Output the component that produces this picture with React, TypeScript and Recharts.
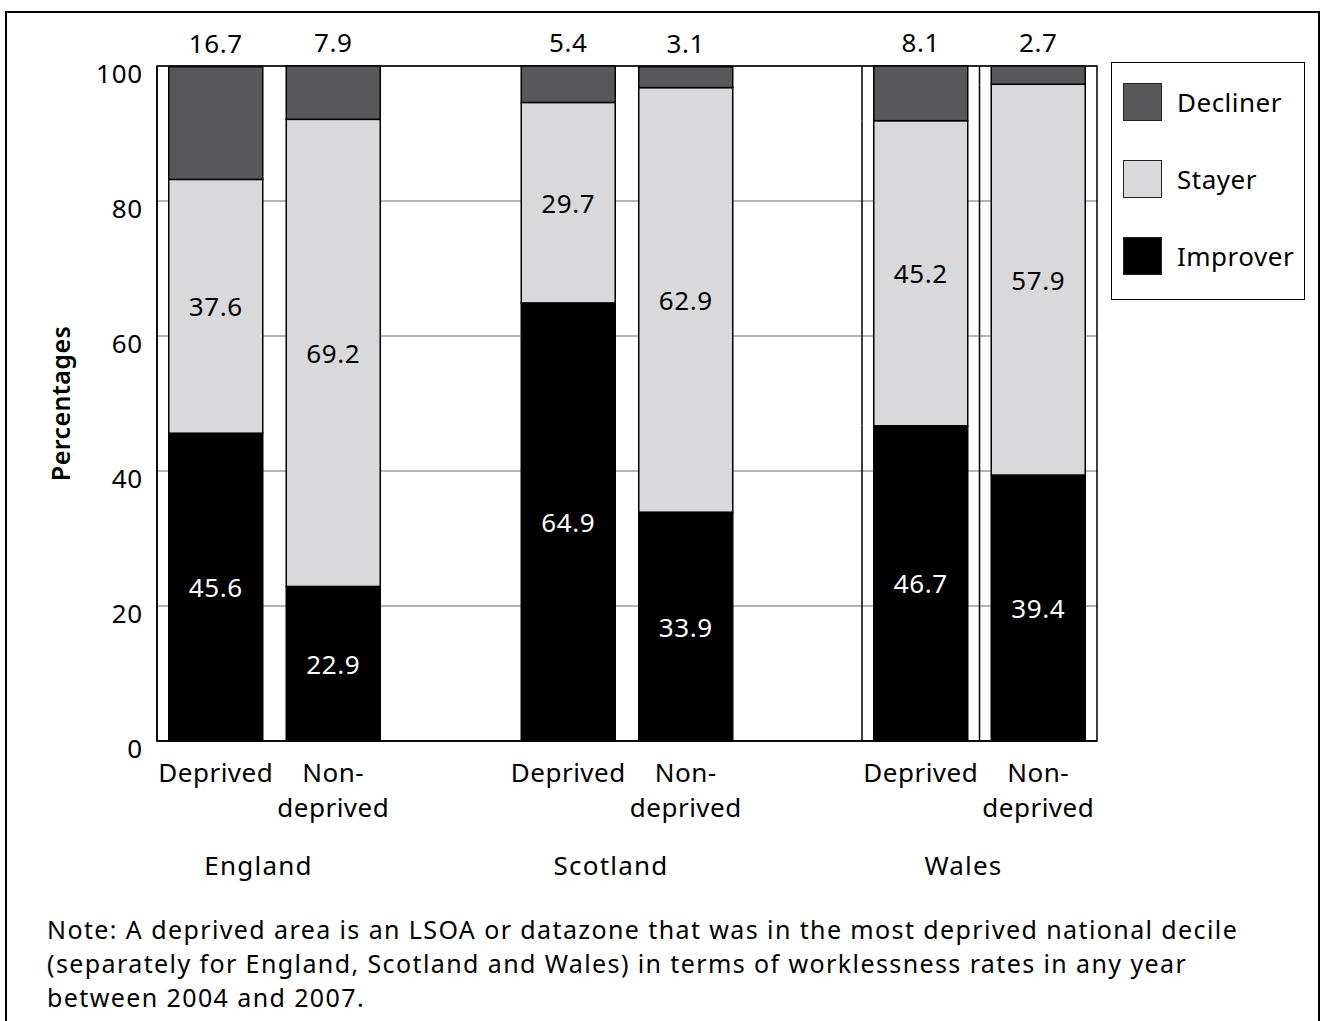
import React from "react";
import { BarChart, Bar, XAxis, YAxis, CartesianGrid, LabelList, Legend, ReferenceArea } from "recharts";

// one slot per bar, with empty slots standing between the countries
const categories = ["Deprived", "Non-deprived", "", "Deprived", "Non-deprived", "", "Deprived", "Non-deprived"];
const countries = ["England", "England", "", "Scotland", "Scotland", "", "Wales", "Wales"];
const improver = [45.6, 22.9, null, 64.9, 33.9, null, 46.7, 39.4];
const stayer = [37.6, 69.2, null, 29.7, 62.9, null, 45.2, 57.9];
const decliner = [16.7, 7.9, null, 5.4, 3.1, null, 8.1, 2.7];
const yTicks = [0, 20, 40, 60, 80, 100];
const legendOrder = ["Decliner", "Stayer", "Improver"];
// the source graphic shows slot divider lines round the Wales bars only
const dividedCountries = ["Wales"];

const data = categories.map((area, i) => ({
  key: `${countries[i] || "gap"}-${i}`,
  area,
  country: countries[i],
  improver: improver[i],
  stayer: stayer[i],
  decliner: decliner[i],
}));

const W = 1322;
const H = 900;
const PLOT_LEFT = 157;
const PLOT_RIGHT = 1097;
const PLOT_TOP = 66;
const PLOT_BOTTOM = 741;
const SLOT = (PLOT_RIGHT - PLOT_LEFT) / categories.length;
const FONT = "'Noto Sans', sans-serif";

const SegmentShape = (props: any) => {
  const { x, y, width, height, fill, payload } = props;
  if (height == null || width == null) return null;
  const gap = (SLOT - width) / 2;
  return (
    <g>
      <rect x={x} y={y} width={width} height={height} fill={fill} stroke="#000" strokeWidth={1.5} />
      {payload && dividedCountries.includes(payload.country) && (
        <line x1={x - gap} x2={x - gap} y1={y} y2={y + height} stroke="#000" strokeWidth={1.5} />
      )}
    </g>
  );
};

const centerLabel = (color: string) => (props: any) => {
  const { x, y, width, height, value } = props;
  if (value == null) return null;
  return (
    <text
      x={x + width / 2}
      y={y + height / 2}
      textAnchor="middle"
      dominantBaseline="central"
      fontSize={26}
      letterSpacing={0.6}
      fill={color}
    >
      {Number(value).toFixed(1)}
    </text>
  );
};

const topLabel = (props: any) => {
  const { x, y, width, value } = props;
  if (value == null) return null;
  return (
    <text x={x + width / 2} y={y - 14} textAnchor="middle" fontSize={26} letterSpacing={0.6} fill="#000">
      {Number(value).toFixed(1)}
    </text>
  );
};

const AreaTick = (props: any) => {
  const { x, y, payload } = props;
  const i = payload.index;
  const area = categories[i];
  if (!area) return null;
  const lines = area === "Non-deprived" ? ["Non-", "deprived"] : [area];
  const startsGroup = countries[i] && countries[i] !== countries[i - 1];
  return (
    <g>
      {lines.map((line, k) => (
        <text key={line} x={x} y={y + 41 + k * 35} textAnchor="middle" fontSize={26} letterSpacing={0.5} fill="#000">
          {line}
        </text>
      ))}
      {startsGroup && (
        <text x={x + SLOT / 2 - 16} y={y + 134} textAnchor="middle" fontSize={26} letterSpacing={1.2} fill="#000">
          {countries[i]}
        </text>
      )}
    </g>
  );
};

const ValueTick = (props: any) => {
  const { x, y, payload } = props;
  return (
    <text x={x} y={y + 7} textAnchor="end" dominantBaseline="central" fontSize={26} letterSpacing={0.8} fill="#000">
      {payload.value}
    </text>
  );
};

const YLabel = (props: any) => {
  const vb = props.viewBox || { x: 0, y: PLOT_TOP, width: PLOT_LEFT, height: PLOT_BOTTOM - PLOT_TOP };
  const cx = vb.x + 60;
  const cy = vb.y + vb.height / 2;
  return (
    <text
      transform={`translate(${cx}, ${cy}) rotate(-90)`}
      textAnchor="middle"
      dominantBaseline="central"
      fontSize={25}
      fontWeight={600}
      letterSpacing={0.4}
      fill="#000"
    >
      Percentages
    </text>
  );
};

const LegendBox = ({ payload }: any) => {
  const items = legendOrder
    .map((name) => (payload || []).find((p: any) => p.value === name))
    .filter(Boolean);
  return (
    <div
      style={{
        border: "1.5px solid #000",
        width: 194,
        height: 238,
        boxSizing: "border-box",
        paddingTop: 20,
        paddingLeft: 11,
        fontFamily: FONT,
      }}
    >
      {items.map((item: any) => (
        <div key={item.value} style={{ display: "flex", alignItems: "center", height: 38, marginBottom: 39 }}>
          <span
            style={{
              display: "inline-block",
              width: 39,
              height: 38,
              background: item.color,
              border: "1.5px solid #222",
              boxSizing: "border-box",
            }}
          />
          <span style={{ marginLeft: 15, fontSize: 26, letterSpacing: 0.5, color: "#000" }}>{item.value}</span>
        </div>
      ))}
    </div>
  );
};

export default function App() {
  return (
    <div
      style={{
        position: "absolute",
        top: 0,
        left: 0,
        width: W,
        height: 1021,
        overflow: "hidden",
        background: "#fff",
        fontFamily: FONT,
      }}
    >
      <div
        style={{
          position: "absolute",
          left: 5,
          top: 11,
          width: 1315,
          height: 1040,
          border: "2px solid #000",
          boxSizing: "border-box",
        }}
      />
      <div style={{ position: "absolute", left: 0, top: 0 }}>
        <BarChart
          width={W}
          height={H}
          data={data}
          margin={{ top: PLOT_TOP, right: W - PLOT_RIGHT, bottom: 0, left: 0 }}
          barCategoryGap="10%"
        >
          <CartesianGrid vertical={false} stroke="#9b9b9b" strokeWidth={1.5} />
          <XAxis
            dataKey="key"
            interval={0}
            height={H - PLOT_BOTTOM}
            axisLine={{ stroke: "#000", strokeWidth: 1.5 }}
            tickLine={false}
            tickSize={0}
            tickMargin={0}
            tick={<AreaTick />}
          />
          <YAxis
            width={PLOT_LEFT}
            domain={[0, 100]}
            ticks={yTicks}
            axisLine={{ stroke: "#000", strokeWidth: 1.5 }}
            tickLine={false}
            tickSize={0}
            tickMargin={14}
            tick={<ValueTick />}
            label={{ content: YLabel }}
          />
          <ReferenceArea y1={0} y2={100} fill="none" stroke="#000" strokeWidth={1.5} />
          <Legend
            layout="horizontal"
            align="center"
            verticalAlign="middle"
            content={<LegendBox />}
            wrapperStyle={{ left: 1111, top: 62, width: 194, height: 238 }}
          />
          <Bar dataKey="improver" name="Improver" stackId="s" fill="#000000" shape={<SegmentShape />} isAnimationActive={false}>
            <LabelList dataKey="improver" content={centerLabel("#ffffff")} />
          </Bar>
          <Bar dataKey="stayer" name="Stayer" stackId="s" fill="#d9d9db" shape={<SegmentShape />} isAnimationActive={false}>
            <LabelList dataKey="stayer" content={centerLabel("#000000")} />
          </Bar>
          <Bar dataKey="decliner" name="Decliner" stackId="s" fill="#58585a" shape={<SegmentShape />} isAnimationActive={false}>
            <LabelList dataKey="decliner" content={topLabel} />
          </Bar>
        </BarChart>
      </div>
      <div
        style={{
          position: "absolute",
          left: 47,
          top: 912,
          width: 1260,
          fontSize: 25,
          lineHeight: "34px",
          letterSpacing: 1.4,
          whiteSpace: "nowrap",
          color: "#000",
        }}
      >
        Note: A deprived area is an LSOA or datazone that was in the most deprived national decile
        <br />
        (separately for England, Scotland and Wales) in terms of worklessness rates in any year
        <br />
        between 2004 and 2007.
      </div>
    </div>
  );
}
